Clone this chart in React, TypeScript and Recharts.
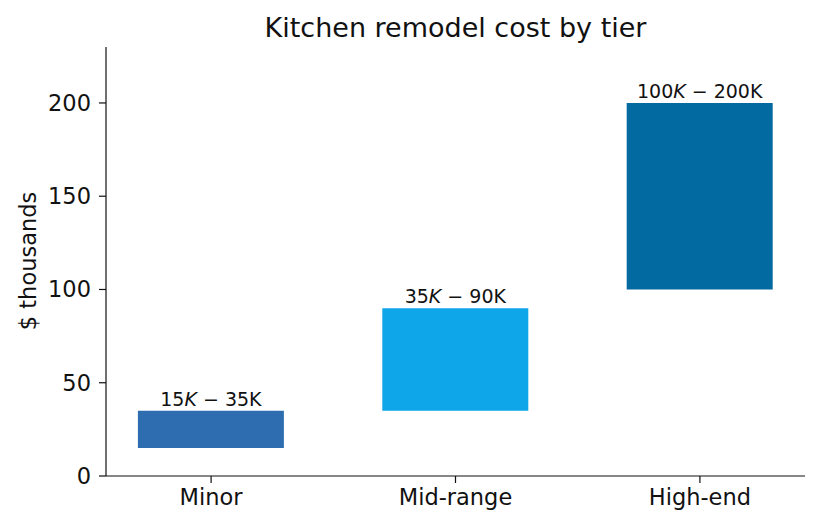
import { BarChart, Bar, XAxis, YAxis, Cell, LabelList } from "recharts";

const tiers = ["Minor", "Mid-range", "High-end"];
const lowCost = [15, 35, 100];
const highCost = [35, 90, 200];
const tierColors = ["#2E6EB0", "#0EA5E9", "#0369A1"];
const yTicks = [0, 50, 100, 150, 200];

const FONT = "DejaVu Sans, sans-serif";
const INK = "#111";

const data = tiers.map((name, i) => ({ x: i, name, range: [lowCost[i], highCost[i]] }));

function RangeLabel(props: any) {
  const { x, y, width, height, index } = props;
  const top = Math.min(y, y + height);
  return (
    <text x={x + width / 2} y={top - 5} textAnchor="middle" fontFamily={FONT} fontSize={19} fill={INK}>
      {lowCost[index]}
      <tspan fontStyle="italic">K</tspan>
      {" \u2212 "}
      {highCost[index]}K
    </text>
  );
}

export default function App() {
  return (
    <div style={{ position: "absolute", left: 0, top: 0, width: 818, height: 528, background: "#fff" }}>
      <style>{"body{margin:0}"}</style>
      <BarChart width={818} height={528} data={data} margin={{ top: 47, right: 13, bottom: 0, left: 0 }}>
        <text x={455.5} y={37} textAnchor="middle" fontFamily={FONT} fontSize={27} fill={INK}>
          Kitchen remodel cost by tier
        </text>
        <text
          x={28}
          y={261}
          transform="rotate(-90 28 261)"
          textAnchor="middle"
          dominantBaseline="central"
          fontFamily={FONT}
          fontSize={22.5}
          fill={INK}
        >
          $ thousands
        </text>
        <XAxis
          type="number"
          dataKey="x"
          domain={[-0.43, 2.43]}
          ticks={[0, 1, 2]}
          allowDataOverflow
          tickFormatter={(v: number) => tiers[v]}
          height={52}
          tickSize={7}
          tickMargin={6}
          stroke={INK}
          tick={{ fill: INK, fontSize: 22.5, fontFamily: FONT }}
          tickLine={{ stroke: INK, strokeWidth: 1.2 }}
          axisLine={{ stroke: INK, strokeWidth: 1.2 }}
        />
        <YAxis
          domain={[0, 230]}
          ticks={yTicks}
          allowDataOverflow
          width={106}
          tickSize={7}
          tickMargin={8}
          stroke={INK}
          tick={{ fill: INK, fontSize: 22.5, fontFamily: FONT }}
          tickLine={{ stroke: INK, strokeWidth: 1.2 }}
          axisLine={{ stroke: INK, strokeWidth: 1.2 }}
        />
        <Bar dataKey="range" barSize={146} isAnimationActive={false}>
          {data.map((d, i) => (
            <Cell key={d.name} fill={tierColors[i]} />
          ))}
          <LabelList dataKey="range" content={RangeLabel} />
        </Bar>
      </BarChart>
    </div>
  );
}
